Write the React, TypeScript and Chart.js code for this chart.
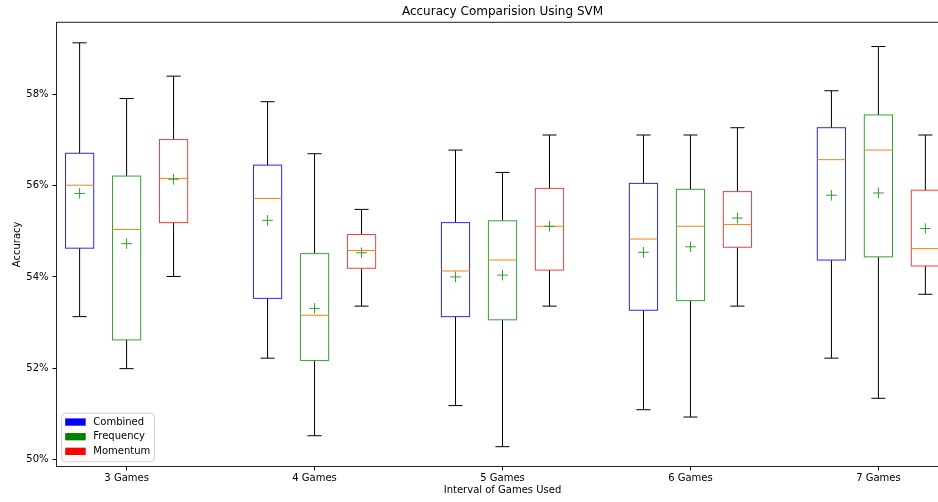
import React, { useEffect, useRef } from "react";
import { Chart, registerables } from "chart.js";

Chart.register(...registerables);

const categories = ["3 Games", "4 Games", "5 Games", "6 Games", "7 Games"];
const seriesNames = ["Combined", "Frequency", "Momentum"];
const yTicks = [50, 52, 54, 56, 58];

const combinedWhiskerLow = [53.13, 52.22, 51.18, 51.09, 52.22];
const combinedQ1 = [54.63, 53.53, 53.13, 53.27, 54.37];
const combinedMedian = [56.01, 55.72, 54.13, 54.83, 56.57];
const combinedQ3 = [56.71, 56.45, 55.19, 56.05, 57.27];
const combinedWhiskerHigh = [59.13, 57.84, 56.78, 57.11, 58.08];
const combinedMean = [55.83, 55.24, 54.0, 54.54, 55.79];

const frequencyWhiskerLow = [51.99, 50.52, 50.28, 50.93, 51.34];
const frequencyQ1 = [52.62, 52.17, 53.06, 53.48, 54.44];
const frequencyMedian = [55.04, 53.16, 54.37, 55.11, 56.78];
const frequencyQ3 = [56.21, 54.51, 55.23, 55.92, 57.55];
const frequencyWhiskerHigh = [57.91, 56.7, 56.29, 57.11, 59.05];
const frequencyMean = [54.73, 53.31, 54.04, 54.66, 55.84];

const momentumWhiskerLow = [54.01, 53.36, 53.36, 53.36, 53.62];
const momentumQ1 = [55.19, 54.19, 54.15, 54.65, 54.24];
const momentumMedian = [56.16, 54.58, 55.11, 55.15, 54.62];
const momentumQ3 = [57.01, 54.93, 55.94, 55.87, 55.9];
const momentumWhiskerHigh = [58.4, 55.48, 57.11, 57.27, 57.11];
const momentumMean = [56.14, 54.53, 55.11, 55.29, 55.06];

const groupOffsets = [-0.25, 0, 0.25];
const boxEdgeColors = ["rgb(40,40,255)", "rgb(50,165,50)", "rgb(255,60,60)"];
const legendColors = ["blue", "green", "red"];

const series = [
  { lo: combinedWhiskerLow, q1: combinedQ1, med: combinedMedian, q3: combinedQ3, hi: combinedWhiskerHigh, mean: combinedMean },
  { lo: frequencyWhiskerLow, q1: frequencyQ1, med: frequencyMedian, q3: frequencyQ3, hi: frequencyWhiskerHigh, mean: frequencyMean },
  { lo: momentumWhiskerLow, q1: momentumQ1, med: momentumMedian, q3: momentumQ3, hi: momentumWhiskerHigh, mean: momentumMean },
];

const FONT = "'DejaVu Sans', sans-serif";

const boxPlugin = {
  id: "boxes",
  beforeDatasetsDraw(chart: any) {
    const { ctx } = chart;
    const xs = chart.scales.x;
    const ys = chart.scales.y;
    const unit = xs.getPixelForValue(1) - xs.getPixelForValue(0);
    const halfBox = unit * 0.075;
    const halfCap = unit * 0.0375;
    ctx.save();
    ctx.lineWidth = 1;
    series.forEach((s, g) => {
      categories.forEach((_, i) => {
        const cx = xs.getPixelForValue(i + 1 + groupOffsets[g]);
        const pLo = ys.getPixelForValue(s.lo[i]);
        const pQ1 = ys.getPixelForValue(s.q1[i]);
        const pMed = ys.getPixelForValue(s.med[i]);
        const pQ3 = ys.getPixelForValue(s.q3[i]);
        const pHi = ys.getPixelForValue(s.hi[i]);
        ctx.strokeStyle = "#000";
        ctx.beginPath();
        ctx.moveTo(cx, pQ1);
        ctx.lineTo(cx, pLo);
        ctx.moveTo(cx, pQ3);
        ctx.lineTo(cx, pHi);
        ctx.moveTo(cx - halfCap, pLo);
        ctx.lineTo(cx + halfCap, pLo);
        ctx.moveTo(cx - halfCap, pHi);
        ctx.lineTo(cx + halfCap, pHi);
        ctx.stroke();
        ctx.strokeStyle = boxEdgeColors[g];
        ctx.strokeRect(cx - halfBox, pQ3, halfBox * 2, pQ1 - pQ3);
        ctx.strokeStyle = "#ff7f0e";
        ctx.beginPath();
        ctx.moveTo(cx - halfBox, pMed);
        ctx.lineTo(cx + halfBox, pMed);
        ctx.stroke();
      });
    });
    ctx.restore();
  },
  afterDraw(chart: any) {
    const { ctx, chartArea } = chart;
    const { left, right, top, bottom } = chartArea;
    ctx.save();
    ctx.strokeStyle = "#222";
    ctx.lineWidth = 1;
    ctx.beginPath();
    ctx.moveTo(left, top);
    ctx.lineTo(right, top);
    ctx.lineTo(right, bottom);
    ctx.stroke();

    const lx = left + 5.2;
    const ly = bottom - 53;
    const lw = 92.6;
    const lh = 48.4;
    const r = 3;
    ctx.beginPath();
    ctx.moveTo(lx + r, ly);
    ctx.lineTo(lx + lw - r, ly);
    ctx.quadraticCurveTo(lx + lw, ly, lx + lw, ly + r);
    ctx.lineTo(lx + lw, ly + lh - r);
    ctx.quadraticCurveTo(lx + lw, ly + lh, lx + lw - r, ly + lh);
    ctx.lineTo(lx + r, ly + lh);
    ctx.quadraticCurveTo(lx, ly + lh, lx, ly + lh - r);
    ctx.lineTo(lx, ly + r);
    ctx.quadraticCurveTo(lx, ly, lx + r, ly);
    ctx.closePath();
    ctx.fillStyle = "rgba(255,255,255,0.8)";
    ctx.fill();
    ctx.strokeStyle = "#d0d0d0";
    ctx.stroke();
    ctx.font = `10px ${FONT}`;
    ctx.textBaseline = "middle";
    ctx.textAlign = "left";
    seriesNames.forEach((name, k) => {
      const cy = ly + 8.7 + k * 14.65;
      ctx.fillStyle = legendColors[k];
      ctx.fillRect(lx + 3.5, cy - 3.6, 20.5, 7.3);
      ctx.fillStyle = "#000";
      ctx.fillText(name, lx + 31.6, cy);
    });
    ctx.restore();
  },
};

export default function App() {
  const ref = useRef<HTMLCanvasElement>(null);
  useEffect(() => {
    if (!ref.current) return;
    Chart.defaults.font.family = FONT;
    Chart.defaults.color = "#000";
    const chart = new Chart(ref.current, {
      type: "scatter",
      data: {
        datasets: seriesNames.map((name, g) => ({
          label: name,
          data: series[g].mean.map((m, i) => ({ x: i + 1 + groupOffsets[g], y: m })),
          pointStyle: "cross",
          radius: 5.3,
          borderColor: "#2ca02c",
          backgroundColor: "#2ca02c",
          borderWidth: 1,
        })),
      },
      options: {
        animation: false,
        responsive: false,
        devicePixelRatio: 1,
        layout: { padding: { left: 0, right: 0, top: 0, bottom: 0 } },
        plugins: {
          legend: { display: false },
          tooltip: { enabled: false },
          title: {
            display: true,
            text: "Accuracy Comparision Using SVM",
            font: { size: 12, weight: "normal", family: FONT },
            color: "#000",
            padding: { top: 5, bottom: 2.9 },
          },
        },
        scales: {
          x: {
            type: "linear",
            min: 0.627,
            max: 5.373,
            afterBuildTicks: (scale: any) => {
              scale.ticks = categories.map((_, i) => ({ value: i + 1 }));
            },
            afterFit: (scale: any) => {
              scale.height = 35.7;
            },
            ticks: {
              autoSkip: false,
              maxRotation: 0,
              padding: 2,
              font: { size: 10 },
              color: "#000",
              callback: (v: any) => categories[Math.round(Number(v)) - 1] ?? "",
            },
            grid: { drawOnChartArea: false, tickLength: 4, color: "#000" },
            border: { color: "#222", width: 1 },
            title: {
              display: true,
              text: "Interval of Games Used",
              font: { size: 10 },
              color: "#000",
              padding: { top: 0, bottom: 5.3 },
            },
          },
          y: {
            type: "linear",
            min: 49.85,
            max: 59.58,
            afterBuildTicks: (scale: any) => {
              scale.ticks = yTicks.map((v) => ({ value: v }));
            },
            afterFit: (scale: any) => {
              scale.width = 56.5;
            },
            ticks: {
              padding: 4,
              font: { size: 10 },
              color: "#000",
              callback: (v: any) => `${v}%`,
            },
            grid: { drawOnChartArea: false, tickLength: 4, color: "#000" },
            border: { color: "#222", width: 1 },
            title: {
              display: true,
              text: "Accuracy",
              font: { size: 10 },
              color: "#000",
              padding: { top: 11, bottom: 0 },
            },
          },
          yRight: {
            type: "linear",
            position: "right",
            min: 49.85,
            max: 59.58,
            afterFit: (scale: any) => {
              scale.width = 56.5;
            },
            ticks: { display: false },
            grid: { display: false },
            border: { display: false },
          },
        },
      },
      plugins: [boxPlugin],
    } as any);
    return () => chart.destroy();
  }, []);
  return (
    <div
      style={{
        position: "fixed",
        left: 0,
        top: 0,
        width: 938,
        height: 502,
        overflow: "hidden",
        background: "#fff",
      }}
    >
      <canvas ref={ref} width={1005} height={502} style={{ display: "block" }} />
    </div>
  );
}
